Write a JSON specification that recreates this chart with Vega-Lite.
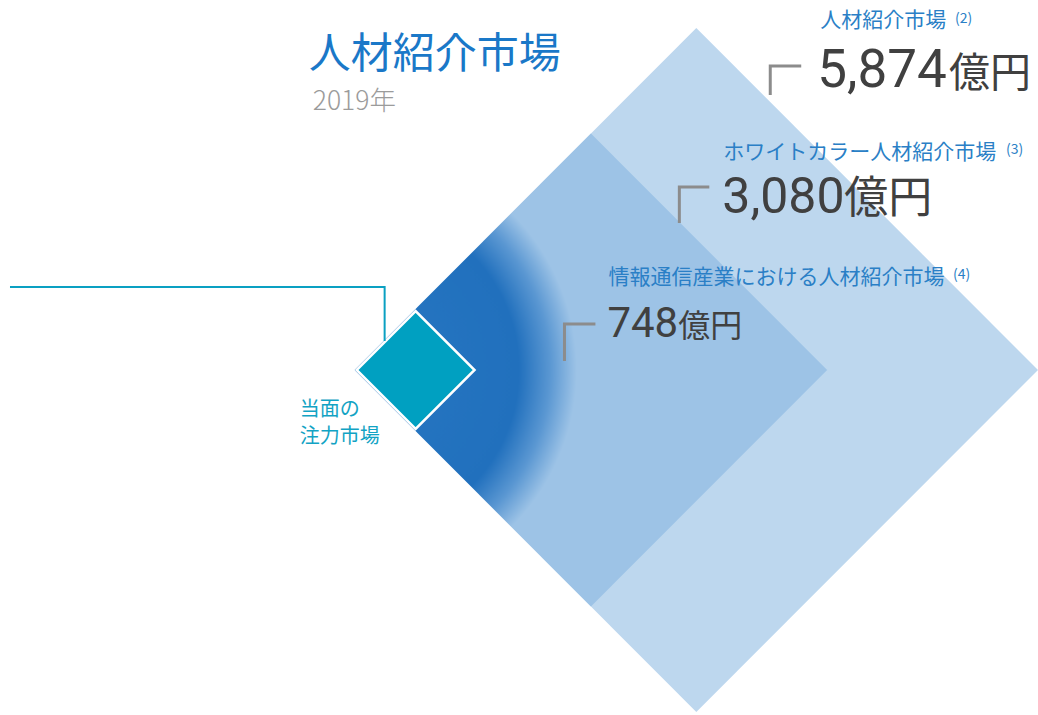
{
  "$schema": "https://vega.github.io/schema/vega-lite/v6.json",
  "width": 1038,
  "height": 715,
  "autosize": {"type": "fit", "contains": "padding"},
  "padding": 0,
  "background": "white",
  "config": {"view": {"stroke": null}},
  "datasets": {
    "shapes": [
      {"shape": "market", "x": 355, "top": 370, "bottom": 370},
      {"shape": "market", "x": 697, "top": 28, "bottom": 712},
      {"shape": "market", "x": 1039, "top": 370, "bottom": 370},
      {"shape": "whitecollar", "x": 355, "top": 370, "bottom": 370},
      {"shape": "whitecollar", "x": 591.5, "top": 133.5, "bottom": 606.5},
      {"shape": "whitecollar", "x": 828, "top": 370, "bottom": 370},
      {"shape": "focus", "x": 357, "top": 370, "bottom": 370},
      {"shape": "focus", "x": 416, "top": 311, "bottom": 429},
      {"shape": "focus", "x": 475, "top": 370, "bottom": 370}
    ],
    "lines": [
      {"id": "focus", "o": 1, "x": 10, "y": 287},
      {"id": "focus", "o": 2, "x": 385, "y": 287},
      {"id": "focus", "o": 3, "x": 385, "y": 341},
      {"id": "l1", "o": 1, "x": 771, "y": 95},
      {"id": "l1", "o": 2, "x": 771, "y": 66},
      {"id": "l1", "o": 3, "x": 802, "y": 66},
      {"id": "l2", "o": 1, "x": 680, "y": 223},
      {"id": "l2", "o": 2, "x": 680, "y": 187},
      {"id": "l2", "o": 3, "x": 710, "y": 187},
      {"id": "l3", "o": 1, "x": 565, "y": 361},
      {"id": "l3", "o": 2, "x": 565, "y": 324},
      {"id": "l3", "o": 3, "x": 596, "y": 324}
    ],
    "texts": [
      {"kind": "title", "x": 309, "y": 68, "text": "人材紹介市場"},
      {"kind": "year", "x": 313, "y": 110, "text": "2019年"},
      {"kind": "label", "x": 821, "y": 27, "text": "人材紹介市場"},
      {"kind": "label", "x": 724, "y": 159, "text": "ホワイトカラー人材紹介市場"},
      {"kind": "label", "x": 609, "y": 284, "text": "情報通信産業における人材紹介市場"},
      {"kind": "sup", "x": 956, "y": 23, "text": "(2)"},
      {"kind": "sup", "x": 1007, "y": 154, "text": "(3)"},
      {"kind": "sup", "x": 954, "y": 279, "text": "(4)"},
      {"kind": "number", "x": 818, "y": 87, "text": "5,874"},
      {"kind": "unit", "x": 950, "y": 87, "text": "億円"},
      {"kind": "number2", "x": 723, "y": 213, "text": "3,080"},
      {"kind": "unit2", "x": 845, "y": 213, "text": "億円"},
      {"kind": "numsmall", "x": 608, "y": 337, "text": "748"},
      {"kind": "unitsmall", "x": 679, "y": 337, "text": "億円"},
      {"kind": "note", "x": 300, "y": 416, "text": "当面の"},
      {"kind": "note", "x": 300, "y": 443, "text": "注力市場"}
    ]
  },
  "encoding": {
    "x": {"type": "quantitative", "scale": {"domain": [0, 1038]}, "axis": null},
    "y": {"type": "quantitative", "scale": {"domain": [0, 715], "reverse": true}, "axis": null}
  },
  "layer": [
    {
      "data": {"name": "shapes"},
      "transform": [{"filter": "datum.shape === 'market'"}],
      "mark": {"type": "area", "fill": "#bdd7ee", "clip": false},
      "encoding": {"x": {"field": "x", "type": "quantitative"}, "y": {"field": "top", "type": "quantitative"}, "y2": {"field": "bottom"}}
    },
    {
      "data": {"name": "shapes"},
      "transform": [{"filter": "datum.shape === 'whitecollar'"}],
      "mark": {
        "type": "area",
        "fill": {
          "gradient": "radial",
          "x1": 0, "y1": 0.5, "r1": 0,
          "x2": 0, "y2": 0.5, "r2": 0.47,
          "stops": [
            {"offset": 0, "color": "#2777c2"},
            {"offset": 0.74, "color": "#2170bd"},
            {"offset": 0.88, "color": "#5a97d2"},
            {"offset": 1, "color": "#9dc3e6"}
          ]
        }
      },
      "encoding": {"x": {"field": "x", "type": "quantitative"}, "y": {"field": "top", "type": "quantitative"}, "y2": {"field": "bottom"}}
    },
    {
      "data": {"name": "shapes"},
      "transform": [{"filter": "datum.shape === 'focus'"}],
      "mark": {"type": "area", "fill": "#00a0c1", "stroke": "white", "strokeWidth": 2.5, "strokeJoin": "miter"},
      "encoding": {"x": {"field": "x", "type": "quantitative"}, "y": {"field": "top", "type": "quantitative"}, "y2": {"field": "bottom"}}
    },
    {
      "data": {"name": "lines"},
      "transform": [{"filter": "datum.id === 'focus'"}],
      "mark": {"type": "line", "color": "#0aa0c2", "strokeWidth": 2, "strokeJoin": "miter"},
      "encoding": {"x": {"field": "x", "type": "quantitative"}, "y": {"field": "y", "type": "quantitative"}, "order": {"field": "o"}, "detail": {"field": "id"}}
    },
    {
      "data": {"name": "lines"},
      "transform": [{"filter": "datum.id !== 'focus'"}],
      "mark": {"type": "line", "color": "#8c8c8c", "strokeWidth": 3, "strokeJoin": "miter"},
      "encoding": {"x": {"field": "x", "type": "quantitative"}, "y": {"field": "y", "type": "quantitative"}, "order": {"field": "o"}, "detail": {"field": "id"}}
    },
    {
      "data": {"name": "texts"},
      "transform": [{"filter": "datum.kind === 'title'"}],
      "mark": {"type": "text", "align": "left", "baseline": "alphabetic", "font": "Noto Sans CJK JP", "fontSize": 42, "color": "#1a78c8"},
      "encoding": {"x": {"field": "x", "type": "quantitative"}, "y": {"field": "y", "type": "quantitative"}, "text": {"field": "text"}}
    },
    {
      "data": {"name": "texts"},
      "transform": [{"filter": "datum.kind === 'year'"}],
      "mark": {"type": "text", "align": "left", "baseline": "alphabetic", "font": "Noto Sans CJK JP", "fontSize": 26.5, "fontWeight": 300, "color": "#9b9b9b"},
      "encoding": {"x": {"field": "x", "type": "quantitative"}, "y": {"field": "y", "type": "quantitative"}, "text": {"field": "text"}}
    },
    {
      "data": {"name": "texts"},
      "transform": [{"filter": "datum.kind === 'label'"}],
      "mark": {"type": "text", "align": "left", "baseline": "alphabetic", "font": "Noto Sans CJK JP", "fontSize": 21, "color": "#2a7fc6"},
      "encoding": {"x": {"field": "x", "type": "quantitative"}, "y": {"field": "y", "type": "quantitative"}, "text": {"field": "text"}}
    },
    {
      "data": {"name": "texts"},
      "transform": [{"filter": "datum.kind === 'sup'"}],
      "mark": {"type": "text", "align": "left", "baseline": "alphabetic", "font": "Noto Sans CJK JP", "fontSize": 14, "color": "#2a7fc6"},
      "encoding": {"x": {"field": "x", "type": "quantitative"}, "y": {"field": "y", "type": "quantitative"}, "text": {"field": "text"}}
    },
    {
      "data": {"name": "texts"},
      "transform": [{"filter": "datum.kind === 'number'"}],
      "mark": {"type": "text", "align": "left", "baseline": "alphabetic", "font": "Roboto", "fontSize": 53, "color": "#404040"},
      "encoding": {"x": {"field": "x", "type": "quantitative"}, "y": {"field": "y", "type": "quantitative"}, "text": {"field": "text"}}
    },
    {
      "data": {"name": "texts"},
      "transform": [{"filter": "datum.kind === 'number2'"}],
      "mark": {"type": "text", "align": "left", "baseline": "alphabetic", "font": "Roboto", "fontSize": 50, "color": "#404040"},
      "encoding": {"x": {"field": "x", "type": "quantitative"}, "y": {"field": "y", "type": "quantitative"}, "text": {"field": "text"}}
    },
    {
      "data": {"name": "texts"},
      "transform": [{"filter": "datum.kind === 'unit'"}],
      "mark": {"type": "text", "align": "left", "baseline": "alphabetic", "font": "Noto Sans CJK JP", "fontSize": 41, "color": "#404040"},
      "encoding": {"x": {"field": "x", "type": "quantitative"}, "y": {"field": "y", "type": "quantitative"}, "text": {"field": "text"}}
    },
    {
      "data": {"name": "texts"},
      "transform": [{"filter": "datum.kind === 'unit2'"}],
      "mark": {"type": "text", "align": "left", "baseline": "alphabetic", "font": "Noto Sans CJK JP", "fontSize": 44, "color": "#404040"},
      "encoding": {"x": {"field": "x", "type": "quantitative"}, "y": {"field": "y", "type": "quantitative"}, "text": {"field": "text"}}
    },
    {
      "data": {"name": "texts"},
      "transform": [{"filter": "datum.kind === 'numsmall'"}],
      "mark": {"type": "text", "align": "left", "baseline": "alphabetic", "font": "Roboto", "fontSize": 42, "color": "#404040"},
      "encoding": {"x": {"field": "x", "type": "quantitative"}, "y": {"field": "y", "type": "quantitative"}, "text": {"field": "text"}}
    },
    {
      "data": {"name": "texts"},
      "transform": [{"filter": "datum.kind === 'unitsmall'"}],
      "mark": {"type": "text", "align": "left", "baseline": "alphabetic", "font": "Noto Sans CJK JP", "fontSize": 32, "color": "#404040"},
      "encoding": {"x": {"field": "x", "type": "quantitative"}, "y": {"field": "y", "type": "quantitative"}, "text": {"field": "text"}}
    },
    {
      "data": {"name": "texts"},
      "transform": [{"filter": "datum.kind === 'note'"}],
      "mark": {"type": "text", "align": "left", "baseline": "alphabetic", "font": "Noto Sans CJK JP", "fontSize": 20, "color": "#12a3c4"},
      "encoding": {"x": {"field": "x", "type": "quantitative"}, "y": {"field": "y", "type": "quantitative"}, "text": {"field": "text"}}
    }
  ]
}
